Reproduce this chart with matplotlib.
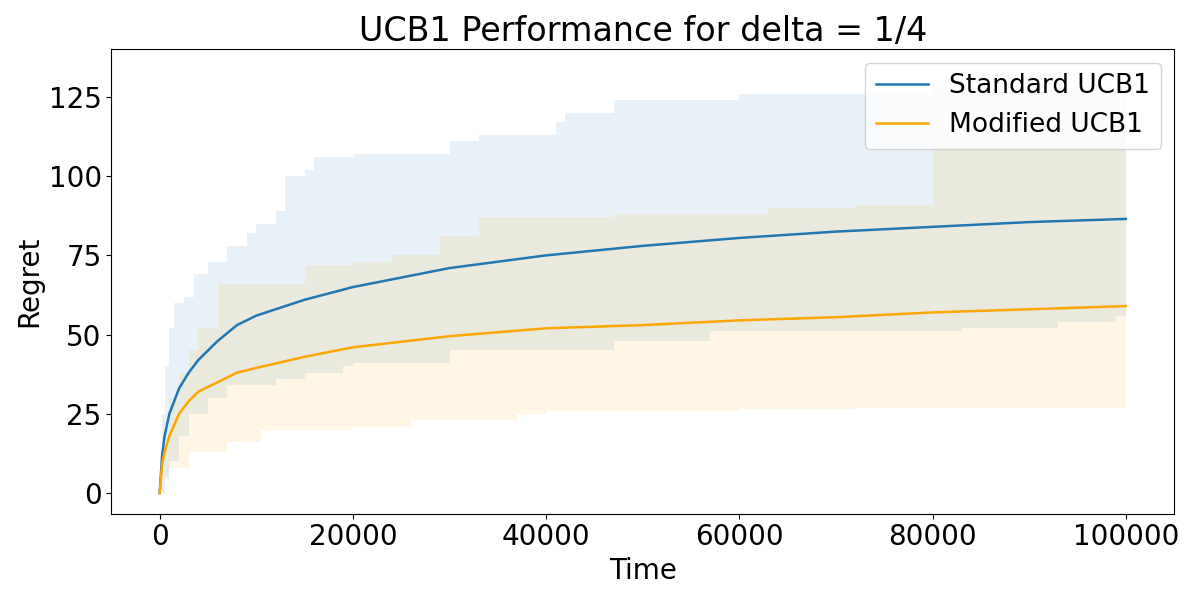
import numpy as np
import matplotlib
matplotlib.use("Agg")
import matplotlib.pyplot as plt

# mean regret curves
t_mean = [0, 250, 500, 1000, 2000, 3000, 4000, 6000, 8000, 10000, 15000, 20000,
          30000, 40000, 50000, 60000, 70000, 80000, 90000, 100000]
std_mean = [0, 12, 18, 25, 33, 38, 42, 48, 53, 56, 61, 65,
            71, 75, 78, 80.5, 82.5, 84, 85.5, 86.5]
mod_mean = [0, 9, 13, 18, 25, 29, 32, 35, 38, 39.5, 43, 46,
            49.5, 52, 53, 54.5, 55.5, 57, 58, 59]

# band edges (step-like)
t_std_hi = [0, 250, 500, 1000, 1500, 2500, 3500, 5000, 7000, 9000, 10000, 12000, 13000,
            15000, 16000, 20000, 30000, 33000, 41000, 42000, 47000, 60000, 80000, 100000]
std_hi = [0, 25, 40, 52, 60, 62, 69, 73, 78, 82, 85, 89, 100,
          102, 106, 107, 111, 113, 117, 120, 124, 126, 128, 132]
t_std_lo = [0, 500, 1000, 2000, 3000, 5000, 7000, 12000, 15000, 19000, 20000, 30000,
            47000, 57000, 83000, 93000, 99000, 100000]
std_lo = [0, 5, 10, 18, 25, 30, 34, 36, 38, 40, 41, 45,
          48, 51, 52, 54, 56, 56]
t_mod_hi = [0, 500, 1000, 2000, 3000, 4000, 6000, 15000, 20000, 24000, 29000, 33000,
            47000, 63000, 72000, 80000, 100000]
mod_hi = [0, 15, 30, 38, 45, 52, 66, 72, 73, 75, 81, 87,
          88, 90, 91, 112, 112]
t_mod_lo = [0, 500, 1000, 3000, 7000, 10500, 20000, 26000, 37000, 40000, 60000, 72000, 100000]
mod_lo = [0, 4, 8, 13, 16, 20, 21, 23, 25, 26, 26.5, 27, 27.5]

fig, ax = plt.subplots(figsize=(12, 6), dpi=100)
ax.plot(t_mean, std_mean, color='#1f77b4', label='Standard UCB1', lw=1.8)
ax.plot(t_mean, mod_mean, color='orange', label='Modified UCB1', lw=1.8)

# build bands on a common grid with step interpolation
grid = np.unique(np.concatenate([t_std_hi, t_std_lo, t_mod_hi, t_mod_lo]))
def stepv(tx, vx):
    idx = np.searchsorted(tx, grid, side='right') - 1
    return np.asarray(vx)[idx]
ax.fill_between(grid, stepv(t_std_lo, std_lo), stepv(t_std_hi, std_hi),
                step='post', color='#1f77b4', alpha=0.1, lw=0)
ax.fill_between(grid, stepv(t_mod_lo, mod_lo), stepv(t_mod_hi, mod_hi),
                step='post', color='orange', alpha=0.1, lw=0)

ax.set_xlim(-5000, 105000)
ax.set_ylim(-6.5, 140)
ax.set_yticks([0, 25, 50, 75, 100, 125])
ax.set_title('UCB1 Performance for delta = 1/4', fontsize=24)
ax.set_xlabel('Time', fontsize=20)
ax.set_ylabel('Regret', fontsize=20)
ax.tick_params(labelsize=20)
ax.legend(fontsize=19, loc='upper right')
fig.tight_layout()
fig.savefig('out.png')
